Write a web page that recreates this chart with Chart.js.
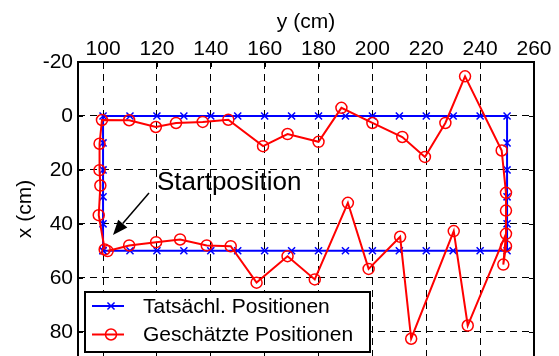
<!DOCTYPE html>
<html>
<head>
<meta charset="utf-8">
<script src="https://cdn.jsdelivr.net/npm/chart.js@4.4.0/dist/chart.umd.min.js"></script>
<style>
  html, body { margin: 0; padding: 0; background: #fff; }
  .chart-wrap { position: relative; width: 559px; height: 356px; }
</style>
</head>
<body>
<div class="chart-wrap"><canvas id="posChart"></canvas></div>
<script>
/* ==========================================
   Positions (cm) - horizontal axis is "y", vertical axis is "x"
   ========================================== */

// Tatsächliche Positionen (rectangle, start at bottom-left)
const actualY = [100, 110, 120, 130, 140, 150, 160, 170, 180, 190, 200, 210, 220, 230, 240, 250,
                 250, 250, 250, 250, 250,
                 240, 230, 220, 210, 200, 190, 180, 170, 160, 150, 140, 130, 120, 110, 100,
                 100, 100, 100, 100, 100];
const actualX = [50, 50, 50, 50, 50, 50, 50, 50, 50, 50, 50, 50, 50, 50, 50, 50,
                 40, 30, 20, 10, 0,
                 0, 0, 0, 0, 0, 0, 0, 0, 0, 0, 0, 0, 0, 0, 0,
                 10, 20, 30, 40, 50];

// Geschätzte Positionen
const estimatedY = [101.7, 109.7, 119.7, 128.6, 138.5, 147.4, 157.0, 168.5, 178.6, 190.9, 198.6,
                    210.3, 214.4, 230.2, 235.4,
                    249.6, 248.6, 249.6, 249.6, 249.6, 248.0,
                    234.4, 227.1, 219.5, 211.1, 200.0, 188.5, 180.0, 168.5, 159.4, 146.5, 137.0,
                    127.1, 119.6, 109.7, 99.6,
                    98.7, 98.7, 99.0, 98.4, 100.6];
const estimatedX = [50.1, 48.0, 46.8, 45.8, 48.0, 48.3, 61.8, 52.0, 60.6, 32.2, 56.7,
                    44.8, 82.6, 42.7, 77.7,
                    43.7, 55.1, 48.3, 35.1, 28.5, 12.8,
                    -14.7, 2.6, 15.2, 7.8, 2.6, -3.0, 9.6, 6.7, 11.2, 1.4, 2.2,
                    2.6, 4.1, 1.6, 1.5,
                    10.3, 20.1, 25.8, 36.8, 49.5];

const topTicks = [100, 120, 140, 160, 180, 200, 220, 240, 260];
const leftTicks = [-20, 0, 20, 40, 60, 80];
const seriesLabels = ['Tatsächl. Positionen', 'Geschätzte Positionen'];

const FONT = "'Liberation Sans', Arial, sans-serif";

function toPoints(hor, ver) {
    return hor.map((v, i) => ({ x: v, y: ver[i] }));
}

// ==========================================
// Plugins: axes box, legend, annotation
// ==========================================
const axesBox = {
    id: 'axesBox',
    afterDraw(chart) {
        const { ctx, chartArea: a, scales } = chart;
        ctx.save();
        ctx.strokeStyle = '#000';
        ctx.lineWidth = 1;
        ctx.beginPath();
        leftTicks.forEach(v => {
            const py = Math.round(scales.y.getPixelForValue(v)) + 0.5;
            ctx.moveTo(a.left, py); ctx.lineTo(a.left + 5, py);
            ctx.moveTo(a.right, py); ctx.lineTo(a.right - 5, py);
        });
        topTicks.forEach(v => {
            const px = Math.round(scales.x.getPixelForValue(v)) + 0.5;
            ctx.moveTo(px, a.top); ctx.lineTo(px, a.top + 5);
        });
        ctx.stroke();
        ctx.lineWidth = 2;
        ctx.strokeRect(a.left, a.top, a.right - a.left, a.bottom - a.top + 2);
        ctx.restore();
    }
};

const legendBox = {
    id: 'legendBox',
    afterDatasetsDraw(chart) {
        const ctx = chart.ctx;
        ctx.save();
        ctx.fillStyle = '#fff';
        ctx.fillRect(85, 292, 285, 60);
        ctx.strokeStyle = '#000';
        ctx.lineWidth = 2;
        ctx.strokeRect(85, 292, 285, 60);

        chart.data.datasets.forEach((ds, i) => {
            const y = 306 + i * 28.5;
            ctx.strokeStyle = ds.borderColor;
            ctx.lineWidth = 2;
            ctx.beginPath();
            ctx.moveTo(92, y); ctx.lineTo(124, y);
            ctx.stroke();
            if (ds.pointStyle === 'circle') {
                ctx.lineWidth = 1.5;
                ctx.beginPath();
                ctx.arc(111, y, ds.pointRadius, 0, Math.PI * 2);
                ctx.stroke();
            } else {
                const r = ds.pointRadius * Math.SQRT1_2;
                ctx.lineWidth = 1.5;
                ctx.beginPath();
                ctx.moveTo(111 - r, y - r); ctx.lineTo(111 + r, y + r);
                ctx.moveTo(111 - r, y + r); ctx.lineTo(111 + r, y - r);
                ctx.stroke();
            }
            ctx.fillStyle = '#000';
            ctx.font = '21px ' + FONT;
            ctx.textBaseline = 'middle';
            ctx.textAlign = 'left';
            ctx.fillText(ds.label, 143, y + 1);
        });
        ctx.restore();
    }
};

const startArrow = {
    id: 'startArrow',
    afterDatasetsDraw(chart) {
        const ctx = chart.ctx;
        ctx.save();
        ctx.fillStyle = '#000';
        ctx.font = '26px ' + FONT;
        ctx.textBaseline = 'alphabetic';
        ctx.fillText('Startposition', 157, 190);

        // arrow
        const x0 = 149, y0 = 193, x1 = 113, y1 = 235;
        const ang = Math.atan2(y1 - y0, x1 - x0);
        const len = 15, half = 6;
        ctx.strokeStyle = '#000';
        ctx.lineWidth = 1.5;
        ctx.beginPath();
        ctx.moveTo(x0, y0);
        ctx.lineTo(x1 - Math.cos(ang) * len, y1 - Math.sin(ang) * len);
        ctx.stroke();
        const bx = x1 - Math.cos(ang) * len, by = y1 - Math.sin(ang) * len;
        ctx.beginPath();
        ctx.moveTo(x1, y1);
        ctx.lineTo(bx + Math.sin(ang) * half, by - Math.cos(ang) * half);
        ctx.lineTo(bx - Math.sin(ang) * half, by + Math.cos(ang) * half);
        ctx.closePath();
        ctx.fill();
        ctx.restore();
    }
};

// ==========================================
// Chart
// ==========================================
const ctx = document.getElementById('posChart');

new Chart(ctx, {
    type: 'scatter',
    data: {
        datasets: [
            {
                label: seriesLabels[0],
                data: toPoints(actualY, actualX),
                showLine: true,
                borderColor: '#0000ff',
                backgroundColor: '#0000ff',
                borderWidth: 2,
                pointStyle: 'crossRot',
                pointRadius: 5,
                pointBorderWidth: 1.5,
                order: 2
            },
            {
                label: seriesLabels[1],
                data: toPoints(estimatedY, estimatedX),
                showLine: true,
                borderColor: '#ff0000',
                backgroundColor: 'rgba(0,0,0,0)',
                borderWidth: 2,
                pointStyle: 'circle',
                pointRadius: 5.5,
                pointBorderWidth: 1.5,
                order: 1
            }
        ]
    },
    options: {
        responsive: true,
        maintainAspectRatio: false,
        animation: false,
        // plot runs off the bottom edge like the original crop
        layout: { autoPadding: false, padding: { left: 0, right: 25, top: 0, bottom: 0 } },
        plugins: {
            legend: { display: false },
            tooltip: { enabled: false }
        },
        scales: {
            x: {
                type: 'linear',
                position: 'top',
                min: 90.7,
                max: 260,
                afterBuildTicks: scale => { scale.ticks = topTicks.map(v => ({ value: v })); },
                afterFit: scale => {
                    scale.height = 62;
                    scale.paddingLeft = 0;
                    scale.paddingRight = 0;
                },
                grid: {
                    color: '#000',
                    lineWidth: 1,
                    drawTicks: false
                },
                border: { display: false, dash: [7, 5] },
                ticks: {
                    color: '#000',
                    padding: 0,
                    font: { family: FONT, size: 21 }
                },
                title: {
                    display: true,
                    text: 'y (cm)',
                    color: '#000',
                    padding: { top: 10, bottom: 0 },
                    font: { family: FONT, size: 21 }
                }
            },
            y: {
                type: 'linear',
                reverse: true,
                min: -20,
                max: 89,
                afterBuildTicks: scale => { scale.ticks = leftTicks.map(v => ({ value: v })); },
                afterFit: scale => {
                    scale.width = 78;
                    scale.paddingTop = 0;
                    scale.paddingBottom = 0;
                },
                grid: {
                    color: '#000',
                    lineWidth: 1,
                    drawTicks: false
                },
                border: { display: false, dash: [7, 5] },
                ticks: {
                    color: '#000',
                    padding: 5,
                    font: { family: FONT, size: 21 }
                },
                title: {
                    display: true,
                    text: 'x (cm)',
                    color: '#000',
                    padding: { top: 13, bottom: 0 },
                    font: { family: FONT, size: 21 }
                }
            }
        }
    },
    plugins: [axesBox, legendBox, startArrow]
});
</script>
</body>
</html>
